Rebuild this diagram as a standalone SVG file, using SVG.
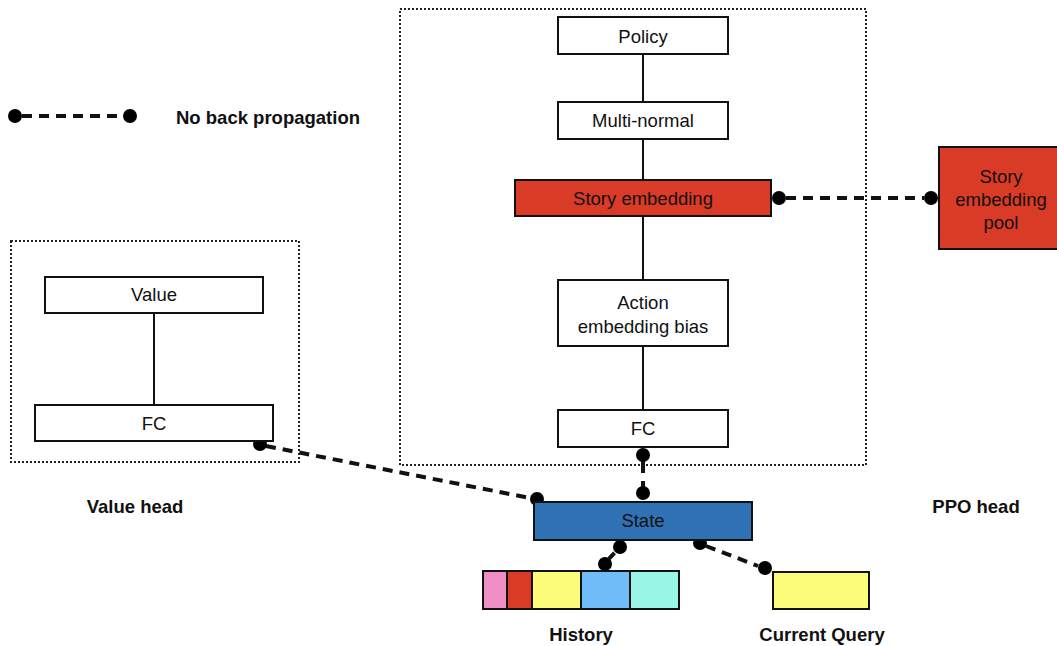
<svg xmlns="http://www.w3.org/2000/svg" width="1057" height="646" viewBox="0 0 1057 646">
<style>
text{font-family:"Liberation Sans",Arial,sans-serif;font-size:18.5px;fill:#111;text-anchor:middle}
.b{font-weight:bold}
.box{stroke:#111;stroke-width:2}
.grp{fill:none;stroke:#222;stroke-width:2;stroke-dasharray:2 2}
.solid{stroke:#111;stroke-width:2;fill:none}
.dash{stroke:#111;stroke-width:4;stroke-dasharray:10 7;fill:none}
.dot{fill:#000}
</style>
<rect width="1057" height="646" fill="#fff"/>
<g id="ppo-group"><rect class="grp" x="400" y="9" width="466" height="456"/></g>
<g id="value-group"><rect class="grp" x="11" y="241" width="288" height="221"/></g>
<g id="connectors">
<line class="solid" x1="643" y1="54" x2="643" y2="102"/>
<line class="solid" x1="643" y1="139" x2="643" y2="180"/>
<line class="solid" x1="643" y1="216" x2="643" y2="280"/>
<line class="solid" x1="643" y1="346" x2="643" y2="410"/>
<line class="solid" x1="154" y1="313" x2="154" y2="405"/>
<line class="dash" x1="22" y1="116" x2="124" y2="116"/>
<circle class="dot" cx="15" cy="116" r="7"/><circle class="dot" cx="130" cy="116" r="7"/>
<line class="dash" x1="786" y1="198" x2="924" y2="198"/>
<circle class="dot" cx="779" cy="198" r="7"/><circle class="dot" cx="931" cy="198" r="7"/>
<line class="dash" x1="266" y1="446" x2="530" y2="498"/>
<circle class="dot" cx="260" cy="444" r="7"/><circle class="dot" cx="537" cy="499" r="7"/>
<line class="dash" x1="643" y1="460" x2="643" y2="490" style="stroke-dasharray:13 8"/>
<circle class="dot" cx="643" cy="455" r="7"/><circle class="dot" cx="643" cy="493" r="7"/>
<line class="dash" x1="620" y1="547" x2="605" y2="563" style="stroke-dasharray:4 4 8"/>
<circle class="dot" cx="620" cy="547" r="7"/><circle class="dot" cx="605" cy="564" r="7"/>
<line class="dash" x1="706" y1="546" x2="758" y2="566"/>
<circle class="dot" cx="700" cy="543" r="7"/><circle class="dot" cx="765" cy="568" r="7"/>
</g>
<g id="policy"><rect class="box" x="558" y="17" width="170" height="37" fill="#fff"/><text x="643" y="43">Policy</text></g>
<g id="multi-normal"><rect class="box" x="558" y="102" width="170" height="37" fill="#fff"/><text x="643" y="127">Multi-normal</text></g>
<g id="story-embedding"><rect class="box" x="515" y="180" width="256" height="36" fill="#D93B26"/><text x="643" y="205">Story embedding</text></g>
<g id="action-embedding-bias"><rect class="box" x="558" y="280" width="170" height="66" fill="#fff"/><text x="643" y="309">Action</text><text x="643" y="333">embedding bias</text></g>
<g id="fc-ppo"><rect class="box" x="558" y="410" width="170" height="37" fill="#fff"/><text x="643" y="435">FC</text></g>
<g id="story-embedding-pool"><rect class="box" x="939" y="147" width="120" height="102" fill="#D93B26"/><text x="1001" y="183">Story</text><text x="1001" y="206">embedding</text><text x="1001" y="229">pool</text></g>
<g id="value"><rect class="box" x="45" y="277" width="218" height="36" fill="#fff"/><text x="154" y="301">Value</text></g>
<g id="fc-value"><rect class="box" x="35" y="405" width="238" height="36" fill="#fff"/><text x="154" y="430">FC</text></g>
<g id="state"><rect class="box" x="534" y="502" width="218" height="38" fill="#3070B5"/><text x="643" y="527">State</text></g>
<g id="history">
<rect class="box" x="483" y="571" width="24" height="38" fill="#EE8EC4"/>
<rect class="box" x="507" y="571" width="25" height="38" fill="#D93B26"/>
<rect class="box" x="532" y="571" width="49" height="38" fill="#FDFB7A"/>
<rect class="box" x="581" y="571" width="49" height="38" fill="#70BCF8"/>
<rect class="box" x="630" y="571" width="49" height="38" fill="#99F6E6"/>
</g>
<g id="current-query"><rect class="box" x="773" y="572" width="96" height="37" fill="#FDFB7A"/></g>
<g id="labels">
<text class="b" x="268" y="124">No back propagation</text>
<text class="b" x="135" y="513">Value head</text>
<text class="b" x="976" y="513">PPO head</text>
<text class="b" x="581" y="641">History</text>
<text class="b" x="822" y="641">Current Query</text>
</g>
</svg>
